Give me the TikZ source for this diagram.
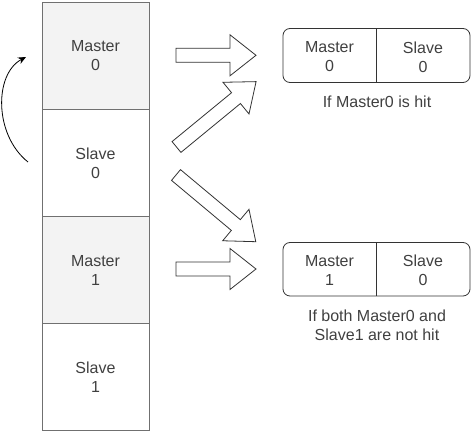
\documentclass[tikz,border=0pt]{standalone}
\usepackage{fontspec}
\setmainfont{Liberation Sans}
\usetikzlibrary{arrows.meta}
\definecolor{txt}{HTML}{404040}
\definecolor{colline}{HTML}{707070}
\definecolor{cellfill}{HTML}{F3F3F3}
\definecolor{boxline}{HTML}{333333}
\tikzset{
  lbl/.style={text=txt, font=\fontsize{16}{19}\selectfont, align=center},
  cell/.style={draw=colline, line width=0.9pt, minimum width=107pt, minimum height=107pt, inner sep=0pt, lbl},
  mcell/.style={cell, fill=cellfill},
  pair/.style={draw=boxline, line width=0.8pt, rounded corners=7pt},
  blockarrow/.pic={
    \draw[draw=boxline, line width=0.8pt, fill=white, line join=miter]
      (0,-7) -- (#1-26,-7) -- (#1-26,-20.5) -- (#1,0) -- (#1-26,20.5) -- (#1-26,7) -- (0,7) -- cycle;
  }
}
\begin{document}
\begin{tikzpicture}[x=1pt,y=-1pt]
\useasboundingbox[fill=white] (0,0) rectangle (472,433);
% column
\node[mcell] (m0) at (95.5,56) {Master\\0};
\node[cell]  (s0) at (95.5,163) {Slave\\0};
\node[mcell] (m1) at (95.5,270) {Master\\1};
\node[cell]  (s1) at (95.5,377) {Slave\\1};
% curved arrow
\coordinate (cs) at (28,162);
\coordinate (ce) at (26,57);
\draw[line width=0.8pt, draw=black, -{Stealth[length=8pt,width=7pt]}]
  (cs) .. controls (-6,135) and (-6,74) .. (ce);
% top pair box
\draw[pair] (283,28.5) rectangle (470,82.5);
\draw[boxline, line width=0.8pt] (376,28.5) -- (376,82.5);
\node[lbl] (tm) at (329.5,57) {Master\\0};
\node[lbl] (ts) at (423,57) {Slave\\0};
\node[lbl] (tl) at (377,102) {If Master0 is hit};
% bottom pair box
\draw[pair] (283,242.5) rectangle (470,296);
\draw[boxline, line width=0.8pt] (376,242.5) -- (376,296);
\node[lbl] (bm) at (329.5,270) {Master\\1};
\node[lbl] (bs) at (423,270) {Slave\\0};
\node[lbl] (bl) at (377,325) {If both Master0 and\\Slave1 are not hit};
% block arrows
\pic at (176,55.3) {blockarrow=80};
\pic[rotate=39.4] at (176.5,147) {blockarrow=103};
\pic[rotate=-39.9] at (176,175) {blockarrow=104};
\pic at (176,269) {blockarrow=80};
\end{tikzpicture}
\end{document}
